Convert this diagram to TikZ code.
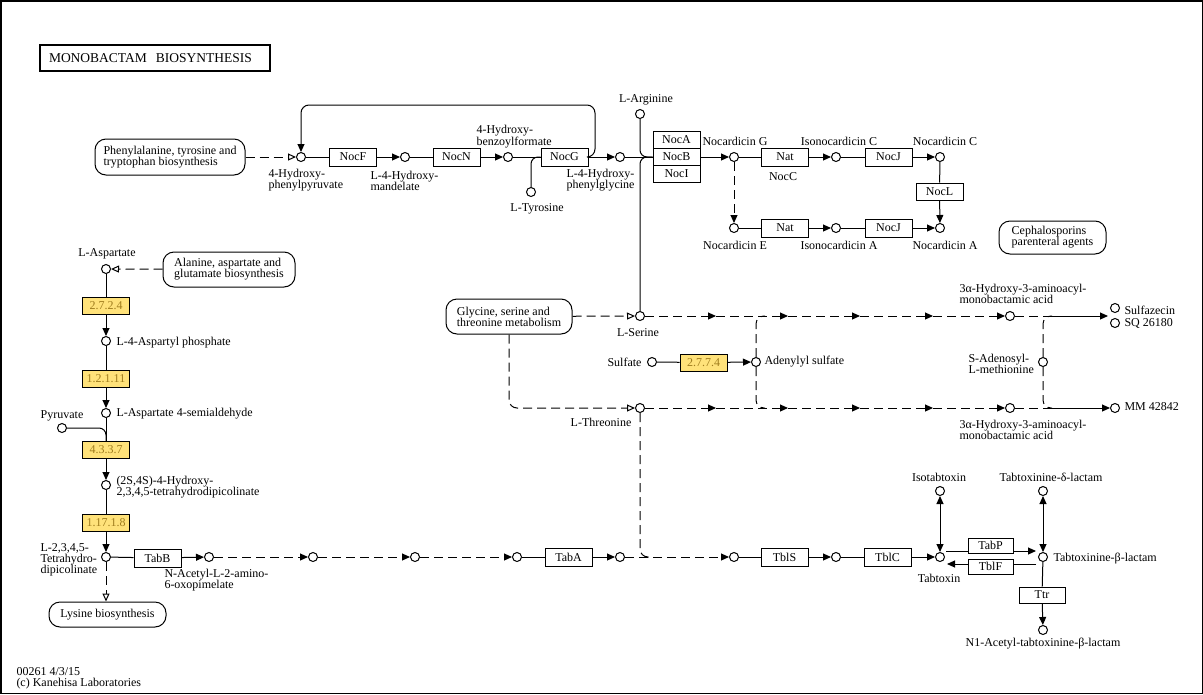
\documentclass[tikz,border=0pt]{standalone}
\usepackage{fontspec}
\setmainfont{Liberation Serif}
\usetikzlibrary{arrows.meta,calc}
\definecolor{ecfill}{RGB}{255,226,122}
\definecolor{ectext}{RGB}{160,125,30}
\begin{document}
\begin{tikzpicture}[x=1pt,y=-1pt, line width=1pt, font=\fontsize{12}{11}\selectfont,
 >={Triangle[length=8pt,width=7pt]},
 cpd/.style={circle,draw,minimum size=9pt,inner sep=0pt,fill=white},
 enz/.style={draw,minimum width=47pt,minimum height=18pt,inner sep=0pt,fill=white},
 ecb/.style={enz,minimum height=17pt,fill=ecfill,text=ectext},
 mapb/.style={draw,rounded corners=11pt,inner sep=0pt,align=left},
 lbl/.style={inner sep=0pt,align=left},
 clbl/.style={inner sep=0pt,align=center},
 dsh/.style={dash pattern=on 9pt off 5pt},
 oarr/.style={-{Triangle[open,length=8pt,width=7pt]}},
]
\useasboundingbox (0,0) rectangle (1203,694);
\draw[line width=1.5pt] (0.75,0.75) rectangle (1202.25,693.25);

% title
\node[draw,line width=2pt,minimum width=230pt,minimum height=26pt,text width=212pt,inner xsep=9pt,align=left,font=\fontsize{13.5}{14}\selectfont] (title) at (155,58) {MONOBACTAM\ \ BIOSYNTHESIS};

% map boxes
\node[mapb,minimum width=150pt,minimum height=36pt] (phe) at (170,157) {Phenylalanine, tyrosine and\\tryptophan biosynthesis};
\node[mapb,minimum width=132pt,minimum height=35pt] (ala) at (229,269.5) {Alanine, aspartate and\\glutamate biosynthesis};
\node[mapb,minimum width=126pt,minimum height=35pt] (gly) at (509,316.5) {Glycine, serine and\\threonine metabolism};
\node[mapb,minimum width=107pt,minimum height=33pt] (ceph) at (1052.5,237.5) {Cephalosporins\\parenteral agents};
\node[mapb,minimum width=117pt,minimum height=25pt] (lys) at (107.5,614.5) {Lysine biosynthesis};

% enzymes
\node[enz] (NocF) at (353,157) {NocF};
\node[enz] (NocN) at (456.5,157) {NocN};
\node[enz] (NocG) at (564.5,157) {NocG};
\node[enz,minimum height=17pt] (NocA) at (676.5,140) {NocA};
\node[enz,minimum height=17pt] (NocB) at (676.5,157) {NocB};
\node[enz,minimum height=17pt] (NocI) at (676.5,174) {NocI};
\node[enz] (Nat1) at (785,157) {Nat};
\node[enz] (NocJ1) at (888.5,157) {NocJ};
\node[enz,minimum height=17pt] (NocL) at (939.5,191.5) {NocL};
\node[enz] (Nat2) at (785,228) {Nat};
\node[enz] (NocJ2) at (888.5,228) {NocJ};
\node[enz] (TabB) at (157.5,558) {TabB};
\node[enz] (TabA) at (568.5,557) {TabA};
\node[enz] (TblS) at (784.5,557) {TblS};
\node[enz] (TblC) at (887.5,557) {TblC};
\node[enz,minimum width=45pt,minimum height=15pt] (TabP) at (990.5,545.5) {TabP};
\node[enz,minimum width=45pt,minimum height=15pt] (TblF) at (990.5,566.5) {TblF};
\node[enz,minimum width=46pt,minimum height=16pt] (Ttr) at (1042,595) {Ttr};
\node[ecb] (ec1) at (106,305.5) {2.7.2.4};
\node[ecb] (ec2) at (106,379) {1.2.1.11};
\node[ecb] (ec3) at (106,450) {4.3.3.7};
\node[ecb] (ec4) at (106,523) {1.17.1.8};
\node[ecb] (ec5) at (703.5,362.5) {2.7.7.4};

% compounds
\node[cpd] (hpp) at (301,157) {};
\node[cpd] (hm) at (405,157) {};
\node[cpd] (hbf) at (508,157) {};
\node[cpd] (tyr) at (531,192) {};
\node[cpd] (hpg) at (620,157) {};
\node[cpd] (arg) at (640,114) {};
\node[cpd] (nocG) at (734,157) {};
\node[cpd] (isoC) at (836,157) {};
\node[cpd] (nocC) at (940,157) {};
\node[cpd] (nocE) at (734,228) {};
\node[cpd] (isoA) at (836,228) {};
\node[cpd] (nocA) at (940,228) {};
\node[cpd] (asp) at (106,269) {};
\node[cpd] (asp4p) at (106,341) {};
\node[cpd] (asa) at (106,413) {};
\node[cpd] (pyr) at (62,428) {};
\node[cpd] (htpa) at (106,485) {};
\node[cpd] (thdp) at (106,557) {};
\node[cpd] (b1) at (209,557) {};
\node[cpd] (b2) at (313,557) {};
\node[cpd] (b3) at (415,557) {};
\node[cpd] (b4) at (517,557) {};
\node[cpd] (b5) at (620,557) {};
\node[cpd] (b6) at (734,557) {};
\node[cpd] (b7) at (836,557) {};
\node[cpd] (tabtox) at (940,557) {};
\node[cpd] (isotab) at (940,491) {};
\node[cpd] (tabd) at (1043,491) {};
\node[cpd] (tabb) at (1043,557) {};
\node[cpd] (n1) at (1043,630) {};
\node[cpd] (ser) at (640,316) {};
\node[cpd] (thr) at (640,408) {};
\node[cpd] (sulf) at (652,362) {};
\node[cpd] (aps) at (756,362) {};
\node[cpd] (sam) at (1043,362) {};
\node[cpd] (hm1) at (1010,316) {};
\node[cpd] (hm2) at (1010,408) {};
\node[cpd] (sfz) at (1115,308) {};
\node[cpd] (sq) at (1115,323) {};
\node[cpd] (mm) at (1115,408) {};

% helper coordinates
\coordinate (loop) at (595,105);
\coordinate (s1) at (716,316); \coordinate (s2) at (788,316);
\coordinate (s3) at (860,316); \coordinate (s4) at (933,316);
\coordinate (t1) at (716,408); \coordinate (t2) at (788,408);
\coordinate (t3) at (860,408); \coordinate (t4) at (933,408);
\coordinate (j1) at (1052,316); \coordinate (j2) at (1052,408);
\coordinate (a1) at (765,316); \coordinate (a2) at (765,408);
\coordinate (sfzt) at (1108,316);
\coordinate (j3) at (650,557);
\coordinate (tp1) at (946,551); \coordinate (tp2) at (1036,551);
\coordinate (tf1) at (1036,564); \coordinate (tf2) at (947,564);

% top pathway
\draw[dsh,oarr] (phe) -- (hpp);
\draw (hpp) -- (NocF); \draw[->] (NocF) -- (hm);
\draw (hm) -- (NocN); \draw[->] (NocN) -- (hbf);
\draw (hbf) -- (NocG); \draw[->] (NocG) -- (hpg);
\draw[rounded corners=8pt,->] (NocG.east) -| (loop) -| (hpp);
\draw[rounded corners=7pt] (tyr) |- (NocG.west);
\draw (hpg) -- (NocB);
\draw[rounded corners=7pt] (arg) |- (NocB.west);
\draw[rounded corners=7pt] (ser) |- (NocB.west);
\draw[->] (NocB) -- (nocG);
\draw (nocG) -- (Nat1); \draw[->] (Nat1) -- (isoC);
\draw (isoC) -- (NocJ1); \draw[->] (NocJ1) -- (nocC);
\draw (nocC) -- (NocL); \draw[->] (NocL) -- (nocA);
\draw[dsh,->] (nocG) -- (nocE);
\draw (nocE) -- (Nat2); \draw[->] (Nat2) -- (isoA);
\draw (isoA) -- (NocJ2); \draw[->] (NocJ2) -- (nocA);

% left column
\draw[dsh,oarr] (ala) -- (asp);
\draw (asp) -- (ec1); \draw[->] (ec1) -- (asp4p);
\draw (asp4p) -- (ec2); \draw[->] (ec2) -- (asa);
\draw (asa) -- (ec3); \draw[rounded corners=7pt] (pyr) -| (ec3.north);
\draw[->] (ec3) -- (htpa);
\draw (htpa) -- (ec4); \draw[->] (ec4) -- (thdp);
\draw[dsh,oarr] (thdp) -- (thdp |- lys.north);

% bottom row
\draw (thdp) -- (TabB); \draw[->] (TabB) -- (b1);
\draw[dsh,->] (b1) -- (b2); \draw[dsh,->] (b2) -- (b3); \draw[dsh,->] (b3) -- (b4);
\draw (b4) -- (TabA); \draw[->] (TabA) -- (b5);
\draw[dsh,->] (b5) -- (b6);
\draw (b6) -- (TblS); \draw[->] (TblS) -- (b7);
\draw (b7) -- (TblC); \draw[->] (TblC) -- (tabtox);
\draw[dsh,rounded corners=8pt] (thr) |- (j3);

% serine / threonine rows
\draw[dsh,oarr] (gly) -- (ser);
\draw[dsh,rounded corners=8pt,oarr] (gly.south) |- (thr);
\draw[dsh,->] (ser) -- (s1); \draw[dsh,->] (s1) -- (s2); \draw[dsh,->] (s2) -- (s3);
\draw[dsh,->] (s3) -- (s4); \draw[dsh,->] (s4) -- (hm1);
\draw[dsh,->] (thr) -- (t1); \draw[dsh,->] (t1) -- (t2); \draw[dsh,->] (t2) -- (t3);
\draw[dsh,->] (t3) -- (t4); \draw[dsh,->] (t4) -- (hm2);
\draw[dsh] (hm1) -- (j1); \draw[->] (j1) -- (sfzt);
\draw[dsh] (hm2) -- (j2); \draw[->] (j2) -- (mm);
\draw[dsh,rounded corners=8pt] (sam) |- (j1);
\draw[dsh,rounded corners=8pt] (sam) |- (j2);
\draw (sulf) -- (ec5); \draw[->] (ec5) -- (aps);
\draw[dsh,rounded corners=8pt] (aps) |- (a1);
\draw[dsh,rounded corners=8pt] (aps) |- (a2);

% tabtoxin
\draw[<->] (isotab) -- (tabtox);
\draw[<->] (tabd) -- (tabb);
\draw (tp1) -- (tp1 -| TabP.west); \draw[->] (tp1 -| TabP.east) -- (tp2);
\draw (tf1) -- (tf1 -| TblF.east); \draw[->] (tf1 -| TblF.west) -- (tf2);
\draw (tabb) -- (Ttr); \draw[->] (Ttr) -- (n1);

% labels
\node[lbl,anchor=west] (Lhpp) at (268,180.5) {4-Hydroxy-\\phenylpyruvate};
\node[lbl,anchor=west] (Lhm) at (370,180.5) {L-4-Hydroxy-\\mandelate};
\node[lbl,anchor=west] (Lhbf) at (476,137) {4-Hydroxy-\\benzoylformate};
\node[lbl,anchor=west] (Lhpg) at (566,180.5) {L-4-Hydroxy-\\phenylglycine};
\node[clbl] (Ltyr) at (537,209) {L-Tyrosine};
\node[clbl] (Larg) at (646,100) {L-Arginine};
\node[clbl] (LnocG) at (735,141) {Nocardicin G};
\node[clbl] (LnocCe) at (783,177) {NocC};
\node[clbl] (LisoC) at (839,141) {Isonocardicin C};
\node[clbl] (LnocC) at (945,141) {Nocardicin C};
\node[clbl] (LnocE) at (735,245) {Nocardicin E};
\node[clbl] (LisoA) at (839,245) {Isonocardicin A};
\node[clbl] (LnocA) at (945,245) {Nocardicin A};
\node[clbl] (Lasp) at (107,254) {L-Aspartate};
\node[lbl,anchor=west] (Lasp4p) at (116,343) {L-4-Aspartyl phosphate};
\node[lbl,anchor=west] (Lasa) at (116,414) {L-Aspartate 4-semialdehyde};
\node[clbl] (Lpyr) at (62,416) {Pyruvate};
\node[lbl,anchor=west] (Lhtpa) at (116,487) {(2S,4S)-4-Hydroxy-\\2,3,4,5-tetrahydrodipicolinate};
\node[lbl,anchor=west] (Lthdp) at (40,559.5) {L-2,3,4,5-\\Tetrahydro-\\dipicolinate};
\node[lbl,anchor=west] (Lb1) at (164,580.5) {N-Acetyl-L-2-amino-\\6-oxopimelate};
\node[clbl] (Lser) at (638,333) {L-Serine};
\node[lbl,anchor=east] (Lsulf) at (642,362) {Sulfate};
\node[lbl,anchor=west] (Laps) at (764,362) {Adenylyl sulfate};
\node[clbl] (Lthr) at (601,422) {L-Threonine};
\node[lbl,anchor=west] (Lhm1) at (959,293.5) {3α-Hydroxy-3-aminoacyl-\\monobactamic acid};
\node[lbl,anchor=west] (Lhm2) at (959,429.5) {3α-Hydroxy-3-aminoacyl-\\monobactamic acid};
\node[lbl,anchor=west] (Lsfz) at (1124,310) {Sulfazecin};
\node[lbl,anchor=west] (Lsq) at (1124,323) {SQ 26180};
\node[lbl,anchor=west] (Lsam) at (968,364) {S-Adenosyl-\\L-methionine};
\node[lbl,anchor=west] (Lmm) at (1124,407) {MM 42842};
\node[clbl] (Lisotab) at (939,477) {Isotabtoxin};
\node[clbl] (Ltabd) at (1051,477) {Tabtoxinine-δ-lactam};
\node[lbl,anchor=west] (Ltabb) at (1053,559) {Tabtoxinine-β-lactam};
\node[clbl] (Ltabtox) at (939,578) {Tabtoxin};
\node[clbl] (Ln1) at (1043,644) {N1-Acetyl-tabtoxinine-β-lactam};
\node[lbl,anchor=west] (foot) at (16,678) {00261 4/3/15\\(c) Kanehisa Laboratories};
\end{tikzpicture}
\end{document}
